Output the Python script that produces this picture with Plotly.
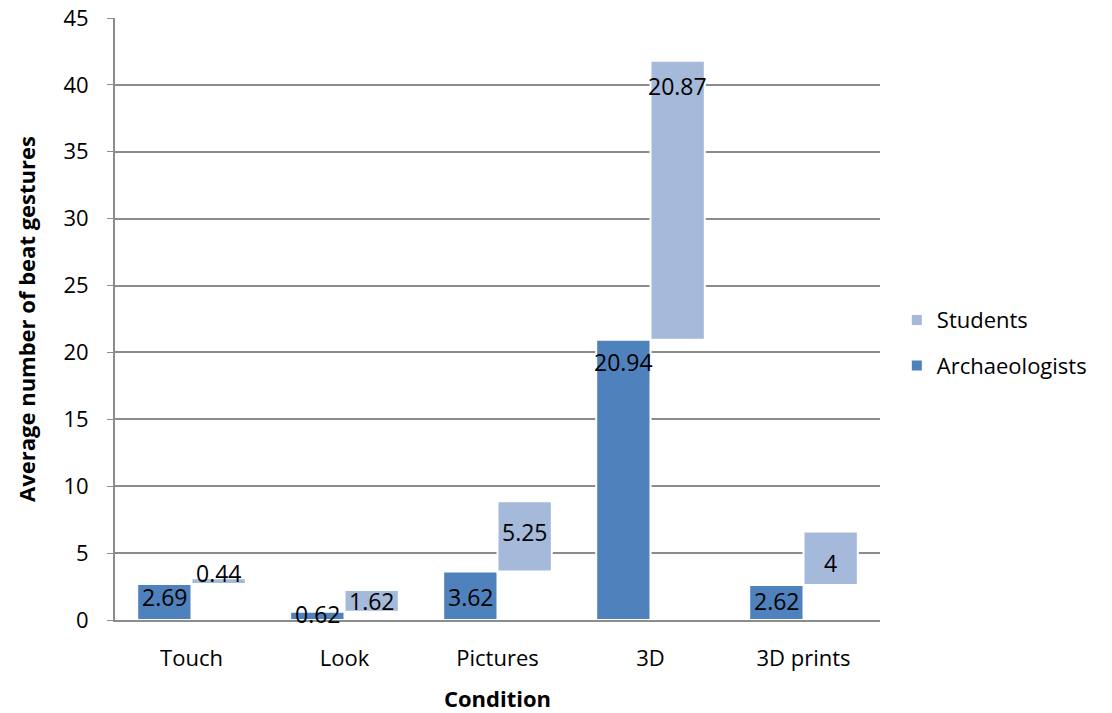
import plotly.graph_objects as go

categories = ["Touch", "Look", "Pictures", "3D", "3D prints"]
archaeologists = [2.69, 0.62, 3.62, 20.94, 2.62]
students = [0.44, 1.62, 5.25, 20.87, 4]
# vertical placement of the value labels (data units), as seen in the picture
arch_label_y = [1.7, 0.45, 1.7, 19.25, 1.4]
stud_label_y = [3.5, 1.45, 6.6, 39.9, 4.25]
y_ticks = [0, 5, 10, 15, 20, 25, 30, 35, 40, 45]

FONT = "Open Sans"
ARCH_C = "#4F81BD"
STUD_C = "#A5B9DA"

fig = go.Figure()
fig.add_trace(go.Bar(
    x=categories, y=archaeologists, name="Archaeologists",
    marker=dict(color=ARCH_C, line=dict(color="white", width=2)),
    offsetgroup="a", legendgroup="a", legendrank=2,
))
fig.add_trace(go.Bar(
    x=categories, y=students, base=archaeologists, name="Students",
    marker=dict(color=STUD_C, line=dict(color="white", width=2)),
    offsetgroup="s", legendgroup="s", legendrank=1,
))

for i, c in enumerate(categories):
    fig.add_annotation(x=c, y=arch_label_y[i], text=str(archaeologists[i]),
                       xshift=-27, showarrow=False, yanchor="middle",
                       font=dict(family=FONT, size=23, color="black"))
    fig.add_annotation(x=c, y=stud_label_y[i], text=str(students[i]),
                       xshift=27, showarrow=False, yanchor="middle",
                       font=dict(family=FONT, size=23, color="black"))

fig.update_layout(
    width=1112, height=713,
    margin=dict(l=115, r=232, t=18, b=93),
    paper_bgcolor="white", plot_bgcolor="white",
    barmode="group", bargap=0.29, bargroupgap=0.0,
    font=dict(family=FONT, size=22, color="black"),
    showlegend=True,
    legend=dict(x=1.022, y=0.46, xanchor="left", yanchor="middle",
                traceorder="grouped", font=dict(family=FONT, size=22),
                itemwidth=30, tracegroupgap=14),
    xaxis=dict(
        title=dict(text="<b>Condition</b>", font=dict(family=FONT, size=22), standoff=22),
        showline=True, linecolor="#8C8C8C", linewidth=2,
        ticks="", tickfont=dict(family=FONT, size=22), ticklabelstandoff=18,
        automargin=False,
    ),
    yaxis=dict(
        title=dict(text="<b>Average number of beat gestures</b>", font=dict(family=FONT, size=22), standoff=22),
        range=[0, 45], tickvals=y_ticks, showline=True, linecolor="#8C8C8C", linewidth=2,
        ticks="outside", ticklen=6, tickcolor="#8C8C8C",
        showgrid=True, gridcolor="#8C8C8C", gridwidth=1.5,
        tickfont=dict(family=FONT, size=22), zeroline=False, ticklabelstandoff=14,
        automargin=False,
    ),
)

fig.write_html("out.html")
